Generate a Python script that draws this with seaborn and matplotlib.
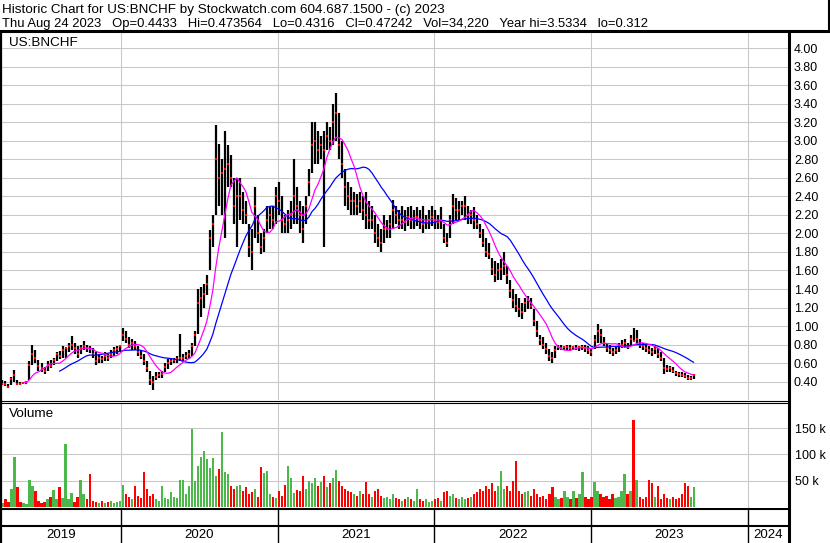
import numpy as np
import pandas as pd
import matplotlib
matplotlib.use("Agg")
import matplotlib.pyplot as plt
import matplotlib.dates as mdates
import seaborn as sns

# ---------------- data (weekly) ----------------
start_date = "2019-04-01"

high = [
0.42,0.41,0.38,0.45,0.53,0.42,0.40,0.40,0.41,0.62,
0.80,0.74,0.63,0.60,0.56,0.62,0.63,0.66,0.72,0.73,
0.78,0.76,0.82,0.89,0.82,0.78,0.80,0.84,0.80,0.79,
0.76,0.72,0.70,0.68,0.72,0.70,0.74,0.77,0.78,0.80,
0.98,0.95,0.88,0.86,0.84,0.78,0.74,0.70,0.62,0.52,
0.46,0.50,0.50,0.52,0.60,0.64,0.65,0.66,0.68,0.91,
0.70,0.72,0.74,0.82,0.95,1.40,1.42,1.45,1.55,2.04,
2.20,3.17,2.97,2.80,3.10,2.95,2.85,2.60,2.60,2.60,
2.45,2.35,2.10,2.05,2.50,2.20,2.00,2.05,2.30,2.28,
2.30,2.50,2.55,2.40,2.20,2.25,2.35,2.80,2.50,2.35,
2.30,2.40,2.70,3.20,3.20,3.10,3.05,3.10,3.20,3.15,
3.40,3.52,3.30,3.00,2.70,2.55,2.50,2.45,2.42,2.45,
2.40,2.45,2.35,2.30,2.20,2.10,2.05,2.20,2.15,2.20,
2.36,2.30,2.25,2.30,2.25,2.28,2.30,2.25,2.28,2.25,
2.30,2.20,2.25,2.30,2.25,2.20,2.28,2.10,2.00,2.20,
2.43,2.38,2.35,2.35,2.40,2.30,2.25,2.28,2.20,2.10,
2.05,1.95,1.90,1.74,1.70,1.68,1.72,1.80,1.65,1.50,
1.40,1.35,1.30,1.25,1.30,1.32,1.30,1.18,1.05,0.90,
0.88,0.82,0.75,0.72,0.78,0.80,0.80,0.79,0.80,0.80,
0.79,0.80,0.79,0.80,0.80,0.78,0.76,0.90,1.02,0.97,
0.88,0.82,0.80,0.76,0.78,0.82,0.85,0.86,0.82,0.90,
0.98,0.96,0.86,0.82,0.80,0.78,0.76,0.78,0.76,0.72,
0.66,0.58,0.57,0.56,0.52,0.51,0.50,0.49,0.47,0.46,
0.48]

low = [
0.36,0.35,0.33,0.36,0.40,0.37,0.36,0.37,0.38,0.42,
0.58,0.60,0.52,0.50,0.48,0.52,0.55,0.58,0.62,0.64,
0.66,0.66,0.72,0.74,0.70,0.66,0.70,0.74,0.72,0.71,
0.66,0.58,0.60,0.60,0.62,0.62,0.66,0.68,0.70,0.72,
0.84,0.82,0.76,0.74,0.74,0.68,0.64,0.58,0.50,0.36,
0.31,0.42,0.44,0.44,0.50,0.54,0.58,0.60,0.60,0.62,
0.62,0.64,0.64,0.68,0.78,0.92,1.10,1.20,1.34,1.60,
1.85,2.20,2.30,2.20,1.95,2.50,2.50,2.10,1.85,2.15,
2.10,2.10,1.75,1.60,1.95,1.90,1.78,1.80,2.00,2.05,
2.05,2.10,2.20,2.00,2.00,2.00,2.05,2.10,2.10,2.00,
1.90,2.10,2.40,2.65,2.75,2.75,2.80,1.85,2.90,2.90,
2.95,3.00,2.80,2.60,2.30,2.25,2.20,2.20,2.20,2.22,
2.15,2.05,2.05,2.05,1.90,1.85,1.80,1.90,1.95,1.95,
2.05,2.10,2.05,2.05,2.03,2.08,2.05,2.05,2.08,2.05,
2.00,2.05,2.05,2.08,2.05,2.05,2.05,1.90,1.85,1.95,
2.10,2.15,2.15,2.20,2.15,2.10,2.10,2.05,2.05,1.95,
1.85,1.75,1.72,1.55,1.48,1.50,1.50,1.55,1.45,1.30,
1.20,1.15,1.10,1.08,1.15,1.18,1.18,1.00,0.88,0.80,
0.75,0.70,0.62,0.60,0.66,0.74,0.74,0.74,0.74,0.73,
0.74,0.74,0.73,0.74,0.72,0.70,0.68,0.75,0.82,0.82,
0.78,0.72,0.70,0.68,0.70,0.72,0.76,0.76,0.75,0.78,
0.84,0.82,0.76,0.74,0.72,0.70,0.68,0.70,0.66,0.62,
0.48,0.50,0.51,0.49,0.46,0.45,0.45,0.44,0.42,0.42,
0.43]

close = [
0.38,0.37,0.34,0.43,0.47,0.38,0.37,0.39,0.40,0.58,
0.70,0.66,0.57,0.55,0.52,0.58,0.57,0.63,0.70,0.68,
0.74,0.76,0.78,0.80,0.76,0.70,0.76,0.78,0.76,0.75,
0.70,0.62,0.66,0.64,0.68,0.66,0.70,0.74,0.75,0.78,
0.90,0.86,0.80,0.82,0.78,0.72,0.68,0.62,0.55,0.42,
0.40,0.45,0.47,0.48,0.56,0.60,0.62,0.63,0.64,0.66,
0.66,0.68,0.70,0.78,0.90,1.25,1.30,1.35,1.45,1.95,
2.10,2.80,2.60,2.65,2.70,2.75,2.60,2.30,2.40,2.40,
2.25,2.20,1.85,1.80,2.30,2.00,1.85,1.95,2.15,2.20,
2.15,2.40,2.35,2.15,2.10,2.15,2.20,2.40,2.30,2.20,
2.05,2.30,2.55,2.95,3.00,2.90,2.95,2.90,3.05,3.00,
3.20,3.30,2.95,2.75,2.50,2.40,2.35,2.35,2.30,2.35,
2.25,2.20,2.15,2.15,2.00,1.95,1.90,2.05,2.05,2.10,
2.25,2.20,2.15,2.15,2.12,2.18,2.15,2.15,2.18,2.15,
2.10,2.12,2.15,2.18,2.15,2.12,2.15,1.95,1.90,2.15,
2.30,2.25,2.25,2.30,2.30,2.20,2.20,2.15,2.10,2.00,
1.90,1.80,1.78,1.62,1.55,1.60,1.62,1.65,1.55,1.38,
1.28,1.22,1.18,1.15,1.25,1.28,1.22,1.05,0.95,0.85,
0.80,0.75,0.68,0.66,0.74,0.77,0.76,0.77,0.77,0.76,
0.77,0.76,0.77,0.77,0.76,0.74,0.72,0.85,0.95,0.90,
0.82,0.76,0.74,0.72,0.74,0.78,0.80,0.82,0.79,0.86,
0.84,0.86,0.80,0.78,0.76,0.74,0.72,0.75,0.70,0.66,
0.55,0.54,0.55,0.52,0.49,0.48,0.47,0.46,0.44,0.44,
0.47]

volume_k = [
8,15,10,35,96,38,10,8,6,52,
40,30,12,8,10,15,20,33,15,38,
18,119,15,27,10,20,52,25,15,63,
12,10,8,12,8,10,12,8,10,12,
42,25,20,15,40,22,18,67,35,22,
25,15,12,40,18,15,28,20,18,52,
52,25,40,148,50,79,96,106,92,75,
94,60,72,142,67,63,40,35,40,42,
30,38,25,28,35,20,77,65,68,25,
20,18,30,22,42,79,56,27,33,30,
60,35,50,45,55,40,48,60,38,45,
55,70,50,40,35,30,28,25,22,30,
25,48,25,20,30,35,22,18,20,15,
25,18,15,12,15,20,15,12,35,15,
12,15,10,12,15,18,12,28,30,22,
25,18,15,20,15,18,20,25,28,35,
30,40,35,45,30,40,68,35,40,30,
50,87,30,25,28,30,22,35,25,20,
22,15,25,38,20,15,18,30,20,15,
30,18,25,67,20,15,20,48,30,25,
20,22,15,25,18,20,30,62,25,30,
165,52,20,15,20,52,45,20,40,15,
25,18,15,20,15,18,25,45,40,20,
38]

price_ticks = [0.40, 0.60, 0.80, 1.00, 1.20, 1.40, 1.60, 1.80, 2.00, 2.20,
               2.40, 2.60, 2.80, 3.00, 3.20, 3.40, 3.60, 3.80, 4.00]
vol_ticks = [50, 100, 150]
vol_tick_labels = ["50 k", "100 k", "150 k"]
years = [2019, 2020, 2021, 2022, 2023, 2024]
header_1 = "Historic Chart for US:BNCHF by Stockwatch.com 604.687.1500 - (c) 2023"
header_2 = ("Thu Aug 24 2023   Op=0.4433   Hi=0.473564   Lo=0.4316   Cl=0.47242   "
            "Vol=34,220   Year hi=3.5334   lo=0.312")
symbol = "US:BNCHF"
volume_title = "Volume"
ma_short_weeks = 8
ma_long_weeks = 20

assert len(high) == len(low) == len(close) == len(volume_k)

# ---------------- frame ----------------
dates = pd.date_range(start_date, periods=len(close), freq="7D")
df = pd.DataFrame({"date": dates, "high": high, "low": low,
                   "close": close, "vol": volume_k})
df["dnum"] = mdates.date2num(df["date"])
df["ma_short"] = df["close"].rolling(ma_short_weeks).mean()
df["ma_long"] = df["close"].rolling(ma_long_weeks).mean()
df["dir"] = np.where(df["close"].diff().fillna(0) >= 0, "up", "down")

sns.set_theme(style="white")
plt.rcParams["font.family"] = ["Liberation Sans", "DejaVu Sans"]

W, H = 830, 543
fig = plt.figure(figsize=(W / 100, H / 100), dpi=100)
fig.patch.set_facecolor("white")


def rect(l, t, w, h):
    return [l / W, 1 - (t + h) / H, w / W, h / H]


x0 = mdates.date2num(pd.Timestamp("2019-03-31"))
x1 = mdates.date2num(pd.Timestamp("2024-04-06"))
year_nums = [mdates.date2num(pd.Timestamp(f"{y}-01-01")) for y in years]
grid_c = "#c8c8c8"
txt_c = "#000000"

# ---------------- price panel ----------------
axp = fig.add_axes(rect(2, 32, 787, 368))
axp.vlines(df["dnum"], df["low"], df["high"], color="black", lw=1.6, zorder=3)
sns.scatterplot(data=df, x="dnum", y="close", marker="s", s=4.5, color="#ff0000",
                linewidth=0, ax=axp, zorder=4)
sns.lineplot(data=df, x="dnum", y="ma_long", color="#0000ff", lw=0.9, ax=axp, zorder=5)
sns.lineplot(data=df, x="dnum", y="ma_short", color="#ff00ff", lw=0.9, ax=axp, zorder=6)
axp.set_xlim(x0, x1)
axp.set_ylim(0.2026, 4.173)
axp.set_yticks(price_ticks)
axp.set_yticklabels([f"{v:.2f}" for v in price_ticks])
axp.yaxis.tick_right()
axp.tick_params(axis="y", length=0, pad=3.6, labelsize=9, labelcolor=txt_c)
axp.set_xticks(year_nums[1:])
axp.tick_params(axis="x", length=0, labelbottom=False)
axp.grid(True, color=grid_c, lw=0.75)
axp.set_axisbelow(True)
axp.set_xlabel("")
axp.set_ylabel("")
for s in axp.spines.values():
    s.set_visible(False)

# ---------------- volume panel ----------------
axv = fig.add_axes(rect(2, 403, 787, 105))
sns.barplot(data=df, x="dnum", y="vol", hue="dir",
            palette={"up": "#4cb84c", "down": "#ff0000"},
            native_scale=True, dodge=False, width=0.72, legend=False,
            errorbar=None, saturation=1, linewidth=0, ax=axv)
axv.set_xlim(x0, x1)
axv.set_ylim(-1.5, 197.5)
axv.set_yticks(vol_ticks)
axv.set_yticklabels(vol_tick_labels)
axv.yaxis.tick_right()
axv.tick_params(axis="y", length=0, pad=4.5, labelsize=9, labelcolor=txt_c)
axv.set_xticks(year_nums[1:])
axv.tick_params(axis="x", length=0, labelbottom=False)
axv.grid(True, color=grid_c, lw=0.75)
axv.set_axisbelow(True)
axv.set_xlabel("")
axv.set_ylabel("")
for s in axv.spines.values():
    s.set_visible(False)

# ---------------- year band ----------------
axb = fig.add_axes(rect(2, 508, 787, 35))
axb.set_xlim(x0, x1)
axb.set_ylim(35, 0)
axb.axis("off")
axb.vlines(year_nums[1:], 0, 35, color="black", lw=1.0)
axb.axhline(1.0, color="black", lw=1.5)
axb.axhline(18.0, color="black", lw=1.5)
for i, y in enumerate(years):
    a = max(year_nums[i], x0)
    b = min(mdates.date2num(pd.Timestamp(f"{y + 1}-01-01")), x1)
    axb.text((a + b) / 2, 27.5, str(y), ha="center", va="center",
             fontsize=9.5, color=txt_c)

# ---------------- frame lines & texts ----------------
axo = fig.add_axes([0, 0, 1, 1], zorder=10)
axo.set_xlim(0, W)
axo.set_ylim(H, 0)
axo.axis("off")
axo.patch.set_alpha(0)
axo.plot([0, W], [30.5, 30.5], color="black", lw=2.2)
axo.plot([828.5, 828.5], [0, 31], color="black", lw=1.5)
axo.plot([1, 1], [31, H], color="black", lw=1.6)
axo.plot([788.5, 788.5], [31, H], color="black", lw=2.2)
axo.plot([0, 789], [400.5, 400.5], color="black", lw=0.8)
axo.plot([0, 789], [403.0, 403.0], color="black", lw=0.8)

fig.text(2 / W, 1 - 13.5 / H, header_1, fontsize=9.7, color=txt_c, va="baseline")
fig.text(2 / W, 1 - 27.2 / H, header_2, fontsize=9.4, color=txt_c, va="baseline")
fig.text(9 / W, 1 - 46 / H, symbol, fontsize=9.7, color=txt_c, va="baseline")
fig.text(9 / W, 1 - 417 / H, volume_title, fontsize=9.7, color=txt_c, va="baseline")

fig.savefig("out.png", dpi=100)
